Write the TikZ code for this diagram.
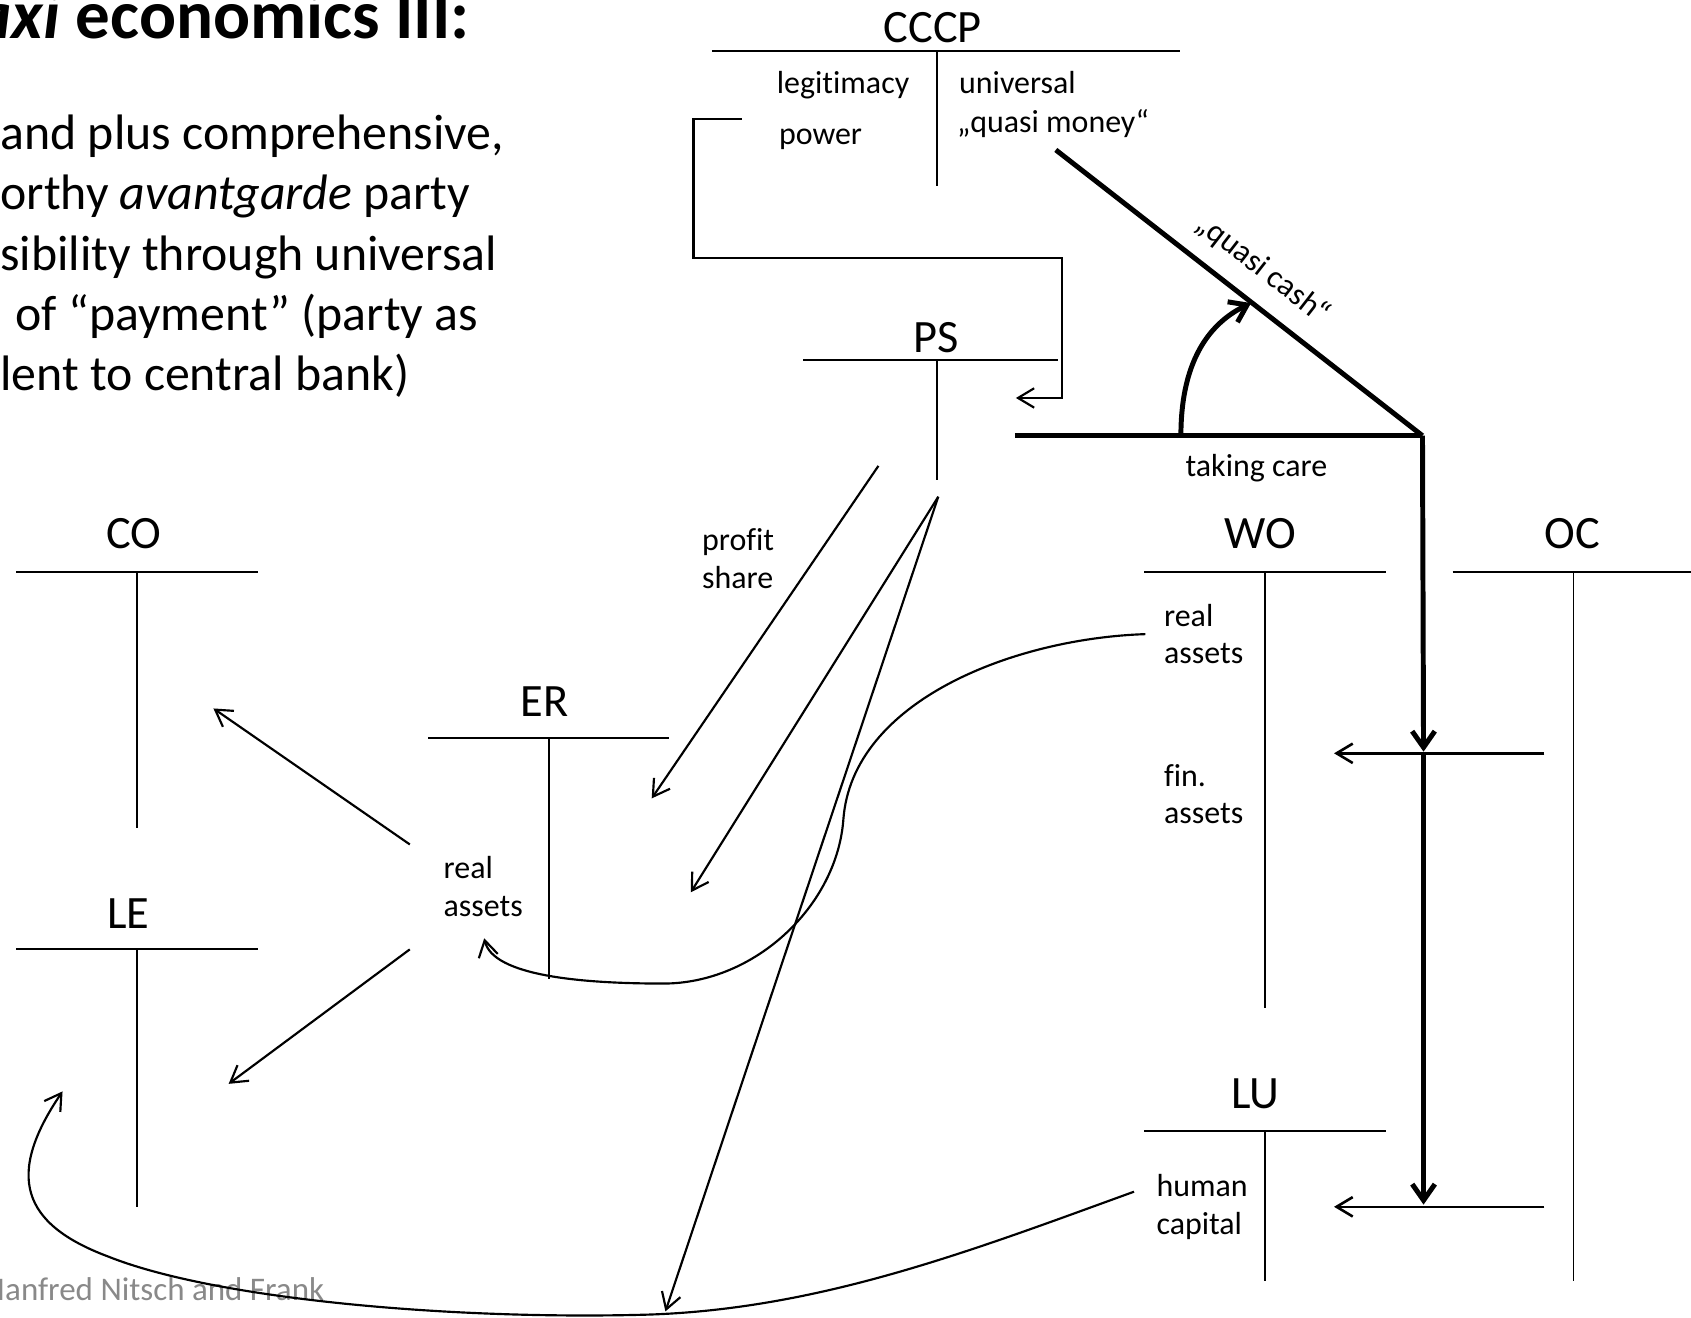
\documentclass[tikz,border=0pt]{standalone}
\usepackage{fontspec}
\setmainfont{Carlito}[Ligatures={NoCommon}]
\usetikzlibrary{arrows.meta}
\definecolor{footgray}{RGB}{137,137,137}
\begin{document}
\begin{tikzpicture}[x=0.5pt,y=-0.5pt,
  acct/.style={line width=0.9pt},
  conn/.style={line width=1pt},
  flow/.style={line width=1pt,-{Straight Barb[length=7.5pt,width=9pt]}},
  heavy/.style={line width=2.3pt},
  heavyflow/.style={line width=2.3pt,-{Straight Barb[length=7.5pt,width=10.5pt]}},
  sectorlabel/.style={font=\fontsize{21.5}{25}\selectfont,inner sep=0pt,anchor=base},
  entry/.style={font=\fontsize{14.8}{17.5}\selectfont,inner sep=0pt,anchor=base west},
  bodytext/.style={font=\fontsize{23.1}{28}\selectfont,inner sep=0pt,anchor=base west},
]
\clip (0,0) rectangle (1568,1222);
\useasboundingbox (0,0) rectangle (1568,1222);

% ---- title and explanatory text ----
\node[font=\fontsize{32}{37}\selectfont\bfseries,inner sep=0pt,anchor=base east] (title) at (436,36) {\textit{axi} economics III:};
\node[bodytext] (l1) at (0,139) {and plus comprehensive,};
\node[bodytext] (l2) at (0,194.7) {orthy \textit{avantgarde} party};
\node[bodytext] (l3) at (0,250.4) {sibility through universal};
\node[bodytext] (l4) at (14,306) {of “payment” (party as};
\node[bodytext] (l5) at (0,361.7) {lent to central bank)};
\node[font=\fontsize{15.3}{18}\selectfont,text=footgray,inner sep=0pt,anchor=base east] (foot) at (301,1206) {Manfred Nitsch and Frank};

% ---- CCCP account ----
\node[sectorlabel] (cccp) at (865,39) {CCCP};
\draw[acct] (660,47) -- (1094,47) (869,47) -- (869,172);
\node[entry] (legit) at (720,87) {legitimacy};
\node[entry] (power) at (722,134) {power};
\node[entry] (univ) at (889,87) {universal};
\node[entry] (qmoney) at (887,123) {„quasi money“};

% ---- PS account ----
\node[sectorlabel] (ps) at (868,327) {PS};
\draw[acct] (745,334) -- (981,334) (869,334) -- (869,445);

% ---- ER account ----
\node[sectorlabel] (er) at (505,664) {ER};
\draw[acct] (397,684) -- (620,684) (509,684) -- (509,908);
\node[entry] (erreal) at (411,814.5) {real};
\node[entry] (erassets) at (411,849.5) {assets};

% ---- CO and LE accounts ----
\node[sectorlabel] (co) at (124,509) {CO};
\draw[acct] (15,530) -- (239,530) (127,530) -- (127,768);
\node[sectorlabel] (le) at (119,861) {LE};
\draw[acct] (15,880) -- (239,880) (127,880) -- (127,1119);

% ---- WO, OC and LU accounts ----
\node[sectorlabel] (wo) at (1169,509) {WO};
\draw[acct] (1061,530) -- (1285,530) (1173,530) -- (1173,935);
\node[entry] (woreal) at (1079,580.5) {real};
\node[entry] (woassets) at (1079,615) {assets};
\node[entry] (wofin) at (1079,729) {fin.};
\node[entry] (wofinassets) at (1079,763.5) {assets};

\node[sectorlabel] (oc) at (1458,509) {OC};
\draw[acct] (1347,530) -- (1568,530) (1459,530) -- (1459,1188);

\node[sectorlabel] (lu) at (1164,1028) {LU};
\draw[acct] (1061,1049) -- (1285,1049) (1173,1049) -- (1173,1188);
\node[entry] (human) at (1072,1109.5) {human};
\node[entry] (capital) at (1072,1144.5) {capital};

% ---- connector end points ----
\coordinate (pwout) at (688,110);
\coordinate (psin) at (942,369);
\coordinate (qmout) at (979,139);
\coordinate (corner) at (1319,404);
\coordinate (tcend) at (941,404);
\coordinate (arcfoot) at (1095,404);
\coordinate (arctip) at (1160,281);
\coordinate (wohit) at (1320,697);
\coordinate (luhit) at (1320,1117);
\coordinate (ocout1) at (1432,698.5);
\coordinate (woin) at (1237,698.5);
\coordinate (ocout2) at (1432,1119);
\coordinate (luin) at (1237,1119);
\coordinate (psout1) at (814.5,432);
\coordinate (erin1) at (604.3,740.3);
\coordinate (psout2) at (870,460.6);
\coordinate (erin2) at (640.5,827.4);
\coordinate (bottomin) at (617,1216);
\coordinate (erout1) at (380,783);
\coordinate (coin) at (197.9,656.9);
\coordinate (erout2) at (380,880.3);
\coordinate (lein1) at (212,1005);
\coordinate (woout) at (1062,588);
\coordinate (erin3) at (449,870);
\coordinate (huout) at (1051.5,1105);
\coordinate (lein2) at (58,1012);

% ---- power flow from CCCP to PS ----
\draw[flow] (pwout) -- (643,110) -- (643,239) -- (985,239) -- (985,369) -- (psin);

% ---- quasi cash, taking care ----
\draw[heavy] (qmout) -- (corner);
\draw[heavy] (tcend) -- (corner);
\node[font=\fontsize{14.8}{17.5}\selectfont,inner sep=0pt,rotate=-37.9] (qcash) at (1171,249.5) {„quasi cash“};
\node[entry,anchor=base] (care) at (1165,442) {taking care};
\draw[heavyflow] (arcfoot) .. controls (1095,330) and (1125,298) .. (arctip);
\draw[heavyflow] (corner) -- (wohit);
\draw[heavyflow] (wohit) -- (luhit);

% ---- OC payments to WO and LU ----
\draw[flow,line width=1.2pt] (ocout1) -- (woin);
\draw[flow,line width=1.2pt] (ocout2) -- (luin);

% ---- PS distributions ----
\node[entry] (profit) at (650.7,510) {profit};
\node[entry] (share) at (650.7,545.6) {share};
\draw[flow] (psout1) -- (erin1);
\draw[flow] (psout2) -- (erin2);
\draw[flow] (psout2) -- (bottomin);

% ---- ER real assets to CO and LE ----
\draw[flow] (erout1) -- (coin);
\draw[flow] (erout2) -- (lein1);

% ---- WO real assets to ER ----
\draw[flow] (woout) .. controls (940,592) and (790,650) .. (782,760)
  .. controls (776,840) and (700,912) .. (615,912)
  .. controls (540,912) and (457,905) .. (erin3);

% ---- LU human capital to LE ----
\draw[flow] (huout) .. controls (900,1160) and (760,1214) .. (600,1219)
  .. controls (420,1224) and (200,1205) .. (100,1165)
  .. controls (20,1135) and (5,1090) .. (lein2);
\end{tikzpicture}
\end{document}
